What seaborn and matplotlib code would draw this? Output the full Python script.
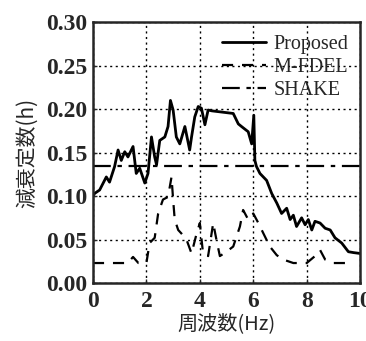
import numpy as np
import pandas as pd
import matplotlib
matplotlib.use("Agg")
import matplotlib.pyplot as plt
import seaborn as sns

# ---- data ----
prop_x = [0.0, 0.06, 0.25, 0.5, 0.62, 0.81, 0.94, 1.06, 1.19, 1.31, 1.5, 1.62, 1.75, 1.94,
          2.06, 2.19, 2.31, 2.38, 2.5, 2.69, 2.81, 2.9, 3.0, 3.12, 3.25, 3.44, 3.62, 3.69,
          3.81, 3.94, 4.06, 4.19, 4.31, 4.45, 5.25, 5.44, 5.56, 5.81, 5.94, 6.02, 6.06,
          6.12, 6.25, 6.5, 6.69, 6.88, 7.06, 7.25, 7.38, 7.5, 7.62, 7.81, 7.94, 8.06,
          8.19, 8.31, 8.5, 8.69, 8.88, 9.06, 9.31, 9.56, 9.75, 10.0]
prop_y = [0.100, 0.103, 0.107, 0.122, 0.116, 0.134, 0.153, 0.141, 0.151, 0.145, 0.157, 0.126,
          0.132, 0.115, 0.126, 0.168, 0.145, 0.136, 0.164, 0.168, 0.180, 0.210, 0.199, 0.168,
          0.160, 0.180, 0.153, 0.168, 0.191, 0.203, 0.201, 0.182, 0.199, 0.198, 0.195, 0.183,
          0.180, 0.174, 0.160, 0.193, 0.141, 0.134, 0.126, 0.118, 0.103, 0.092, 0.080, 0.086,
          0.073, 0.078, 0.065, 0.075, 0.067, 0.073, 0.061, 0.071, 0.069, 0.063, 0.061, 0.052,
          0.046, 0.036, 0.035, 0.034]

mfdel_x = [0.0, 1.3, 1.5, 1.7, 2.0, 2.12, 2.31, 2.44, 2.62, 2.81, 2.94, 3.0, 3.06, 3.19, 3.31,
           3.5, 3.69, 3.88, 4.0, 4.12, 4.31, 4.5, 4.62, 4.75, 5.0, 5.25, 5.5, 5.62, 5.81,
           6.0, 6.19, 6.38, 6.62, 6.88, 7.12, 7.5, 8.0, 8.31, 8.5, 8.69, 9.0, 9.62]
mfdel_y = [0.023, 0.023, 0.030, 0.023, 0.023, 0.046, 0.052, 0.080, 0.096, 0.099, 0.122, 0.096,
           0.073, 0.061, 0.057, 0.050, 0.034, 0.057, 0.069, 0.034, 0.031, 0.069, 0.050, 0.031,
           0.036, 0.042, 0.065, 0.084, 0.073, 0.080, 0.069, 0.057, 0.042, 0.032, 0.027, 0.023,
           0.023, 0.031, 0.038, 0.027, 0.023, 0.023]

shake_x = [0.0, 10.0]
shake_y = [0.135, 0.135]

series_names = ["Proposed", "M-FDEL", "SHAKE"]
x_ticks = [0, 2, 4, 6, 8, 10]
y_ticks = [0.00, 0.05, 0.10, 0.15, 0.20, 0.25, 0.30]

df = pd.concat([
    pd.DataFrame({"f": prop_x, "h": prop_y, "s": series_names[0]}),
    pd.DataFrame({"f": mfdel_x, "h": mfdel_y, "s": series_names[1]}),
    pd.DataFrame({"f": shake_x, "h": shake_y, "s": series_names[2]}),
], ignore_index=True)

sns.set_style("ticks")
plt.rcParams["font.family"] = ["Liberation Serif", "Noto Sans CJK JP"]

fig = plt.figure(figsize=(3.66, 3.41), dpi=100)
ax = fig.add_axes([0.254, 0.170, 0.730, 0.765])

styles = {"Proposed": dict(ls="-", lw=2.0),
          "M-FDEL": dict(ls=(0, (5, 4)), lw=1.6),
          "SHAKE": dict(ls=(0, (8, 3, 2, 3)), lw=1.6)}
for name in series_names:
    sub = df[df["s"] == name]
    sns.lineplot(data=sub, x="f", y="h", ax=ax, color="black", label=name,
                 estimator=None, sort=False, **styles[name])

ax.set_xlim(0, 10)
ax.set_ylim(0, 0.30)
ax.set_xticks(x_ticks)
ax.set_xticklabels([str(t) for t in x_ticks])
ax.set_yticks(y_ticks)
ax.set_yticklabels([f"{t:.2f}" for t in y_ticks])
ax.grid(True, ls=(0, (1.5, 2.5)), color="black", lw=1.0)
ax.tick_params(direction="in", length=3, width=1, labelsize=17, pad=4)
ax.tick_params(axis="x", pad=6)
for lbl in ax.get_xticklabels() + ax.get_yticklabels():
    lbl.set_fontweight("bold")
for sp in ax.spines.values():
    sp.set_linewidth(1.8)
    sp.set_visible(True)

ax.set_xlabel("周波数(Hz)", fontsize=14.5, labelpad=0.5,
              family=["Noto Sans CJK JP", "Liberation Serif"])
ax.set_ylabel("減衰定数(h)", fontsize=15, labelpad=6,
              family=["Noto Sans CJK JP", "Liberation Serif"])

leg = ax.legend(loc="upper right", frameon=False, fontsize=14.5, handlelength=2.2,
                borderaxespad=0.1, labelspacing=0.2, handletextpad=0.4,
                bbox_to_anchor=(0.995, 0.99))

fig.savefig("out.png", dpi=100)
